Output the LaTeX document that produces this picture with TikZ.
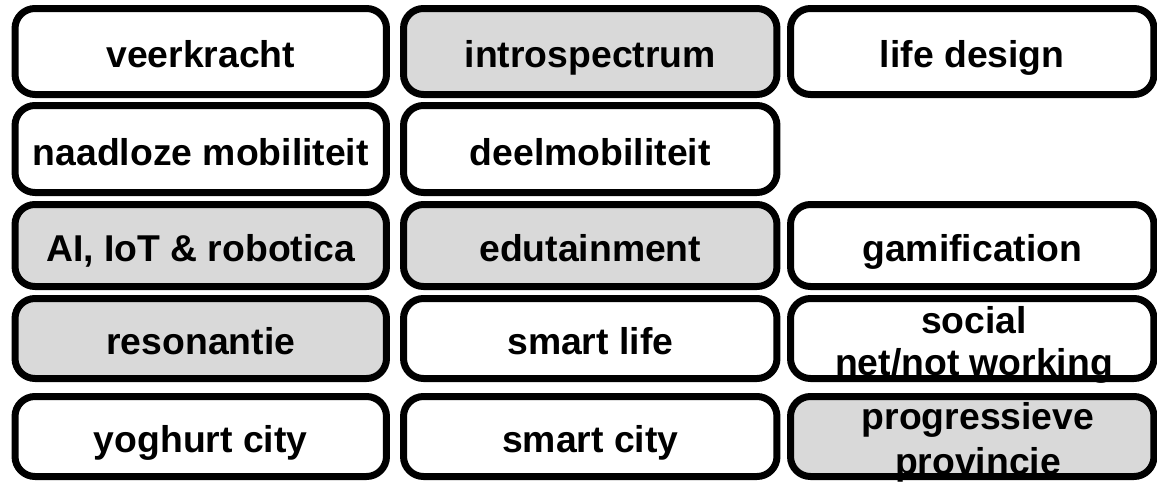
\documentclass[tikz,border=0pt]{standalone}
\usepackage{fontspec}
\setmainfont{Liberation Sans}
\definecolor{tilegray}{RGB}{217,217,217}

\tikzset{every picture/.style={line width=0.75pt}}
\tikzset{
  tile/.style={draw, line width=5.25pt, rounded corners=15pt, fill=white, inner sep=0pt,
    font=\fontsize{28}{30}\selectfont\bfseries, text height=24pt, text depth=0pt},
  shaded/.style={tile, fill=tilegray},
  col1/.style={minimum width=278.6pt}, col2/.style={minimum width=280.1pt}, col3/.style={minimum width=272.6pt},
  row1/.style={minimum height=64.5pt}, row2/.style={minimum height=65.25pt}, row3/.style={minimum height=61.5pt},
  row4/.style={minimum height=60pt}, row5/.style={minimum height=60pt},
  word/.style={inner sep=0pt, align=center, anchor=north}
}

\begin{document}
\begin{tikzpicture}[x=0.75pt,y=0.75pt,yscale=-1,xscale=1]
\useasboundingbox (0,0) rectangle (1157,482);

% Row 1
\node [tile, col1, row1] (veerkracht) at (200.75,51.5) {veerkracht};
\node [shaded, col2, row1] (introspectrum) at (590.25,51.5) {introspectrum};
\node [tile, col3, row1] (lifedesign) at (972.25,51.5) {life design};
% Row 2
\node [tile, col1, row2] (naadloos) at (200.75,149) {naadloze mobiliteit};
\node [tile, col2, row2] (deelmob) at (590.25,149) {deelmobiliteit};
% Row 3
\node [shaded, col1, row3] (aiiot) at (200.75,245.5) {AI, IoT \& robotica};
\node [shaded, col2, row3] (edutainment) at (590.25,245.5) {edutainment};
\node [tile, col3, row3] (gamification) at (972.25,245.5) {gamification};
% Row 4
\node [shaded, col1, row4] (resonantie) at (200.75,338.5) {resonantie};
\node [tile, col2, row4] (smartlife) at (590.25,338.5) {smart life};
\node [tile, col3, row4] (social) at (972.25,338.5) {};
% Row 5
\node [tile, col1, row5] (yoghurt) at (200.75,436.5) {yoghurt city};
\node [tile, col2, row5] (smartcity) at (590.25,436.5) {smart city};
\node [shaded, col3, row5] (provincie) at (972.25,436.5) {};

% Text Node
\node [word, font=\fontsize{28}{31.5}\selectfont\bfseries] (socialtxt) at (974,306) {social\\net/not working};
% Text Node
\node [word, font=\fontsize{28}{33.75}\selectfont\bfseries] (provincietxt) at (978,402) {progressieve\\provincie};

\end{tikzpicture}
\end{document}
